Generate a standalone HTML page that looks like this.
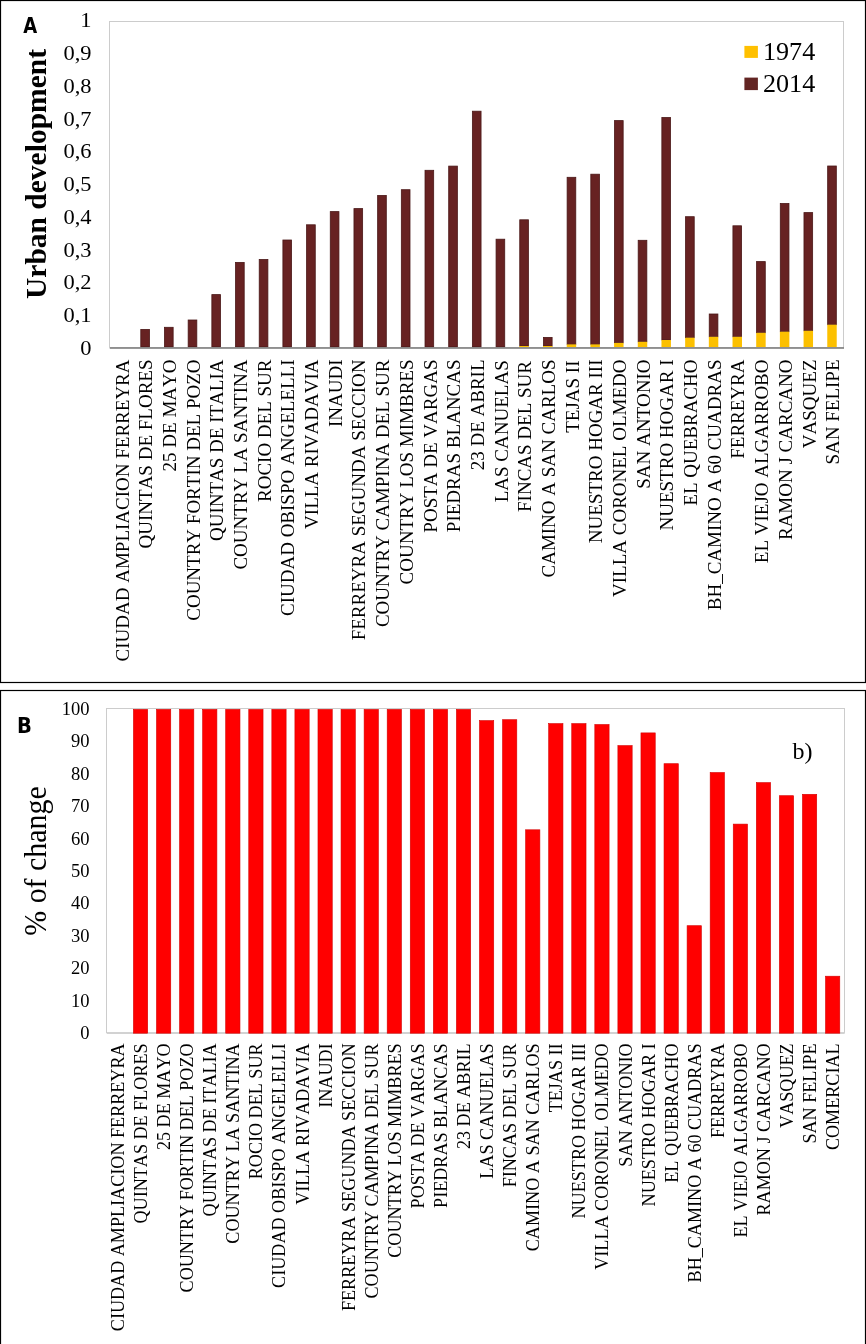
<!DOCTYPE html>
<html><head><meta charset="utf-8"><title>Urban development chart</title><style>
html,body{margin:0;padding:0;background:#fff;width:866px;height:1344px;overflow:hidden}
svg{display:block;will-change:transform}
text{font-family:'Liberation Serif','Times New Roman',serif;fill:#000;font-kerning:none}
.lbl{font-size:19px}
.lblb{font-size:18.5px}
.yt{font-size:21px}
.ytb{font-size:18px}
</style></head><body>
<svg width="866" height="1344" viewBox="0 0 866 1344">
<rect x="0" y="0" width="866" height="1344" fill="#fff"/>
<rect x="0.5" y="0.5" width="865" height="682" fill="none" stroke="#000" stroke-width="1.2"/>
<text transform="translate(23,33) scale(0.82,1)" x="0.3" y="0" style="font-family:'DejaVu Sans','Liberation Sans',sans-serif;font-weight:bold;font-size:22px">A</text>
<rect x="109.5" y="21.5" width="734.0" height="326.5" fill="none" stroke="#cccccc" stroke-width="1"/>
<text class="yt" transform="translate(91.6,354.70) scale(1.07,1)" text-anchor="end">0</text>
<text class="yt" transform="translate(91.6,321.97) scale(1.07,1)" text-anchor="end">0,1</text>
<text class="yt" transform="translate(91.6,289.25) scale(1.07,1)" text-anchor="end">0,2</text>
<text class="yt" transform="translate(91.6,256.52) scale(1.07,1)" text-anchor="end">0,3</text>
<text class="yt" transform="translate(91.6,223.80) scale(1.07,1)" text-anchor="end">0,4</text>
<text class="yt" transform="translate(91.6,191.07) scale(1.07,1)" text-anchor="end">0,5</text>
<text class="yt" transform="translate(91.6,158.35) scale(1.07,1)" text-anchor="end">0,6</text>
<text class="yt" transform="translate(91.6,125.62) scale(1.07,1)" text-anchor="end">0,7</text>
<text class="yt" transform="translate(91.6,92.90) scale(1.07,1)" text-anchor="end">0,8</text>
<text class="yt" transform="translate(91.6,60.17) scale(1.07,1)" text-anchor="end">0,9</text>
<text class="yt" transform="translate(91.6,27.45) scale(1.07,1)" text-anchor="end">1</text>
<text transform="translate(46,174) rotate(-90)" text-anchor="middle" style="font-weight:bold;font-size:29.5px">Urban development</text>
<rect x="140.79" y="329.40" width="8.67" height="17.60" fill="#672222" stroke="#4a1717" stroke-width="0.8"/>
<rect x="164.48" y="327.30" width="8.67" height="19.70" fill="#672222" stroke="#4a1717" stroke-width="0.8"/>
<rect x="188.16" y="320.00" width="8.67" height="27.00" fill="#672222" stroke="#4a1717" stroke-width="0.8"/>
<rect x="211.85" y="294.60" width="8.67" height="52.40" fill="#672222" stroke="#4a1717" stroke-width="0.8"/>
<rect x="235.53" y="262.40" width="8.67" height="84.60" fill="#672222" stroke="#4a1717" stroke-width="0.8"/>
<rect x="259.22" y="259.50" width="8.67" height="87.50" fill="#672222" stroke="#4a1717" stroke-width="0.8"/>
<rect x="282.90" y="240.00" width="8.67" height="107.00" fill="#672222" stroke="#4a1717" stroke-width="0.8"/>
<rect x="306.59" y="224.80" width="8.67" height="122.20" fill="#672222" stroke="#4a1717" stroke-width="0.8"/>
<rect x="330.27" y="211.60" width="8.67" height="135.40" fill="#672222" stroke="#4a1717" stroke-width="0.8"/>
<rect x="353.96" y="208.60" width="8.67" height="138.40" fill="#672222" stroke="#4a1717" stroke-width="0.8"/>
<rect x="377.64" y="195.40" width="8.67" height="151.60" fill="#672222" stroke="#4a1717" stroke-width="0.8"/>
<rect x="401.33" y="189.70" width="8.67" height="157.30" fill="#672222" stroke="#4a1717" stroke-width="0.8"/>
<rect x="425.01" y="170.30" width="8.67" height="176.70" fill="#672222" stroke="#4a1717" stroke-width="0.8"/>
<rect x="448.70" y="166.10" width="8.67" height="180.90" fill="#672222" stroke="#4a1717" stroke-width="0.8"/>
<rect x="472.38" y="111.20" width="8.67" height="235.80" fill="#672222" stroke="#4a1717" stroke-width="0.8"/>
<rect x="496.07" y="239.20" width="8.67" height="107.80" fill="#672222" stroke="#4a1717" stroke-width="0.8"/>
<rect x="519.75" y="219.80" width="8.67" height="126.20" fill="#672222" stroke="#4a1717" stroke-width="0.8"/>
<rect x="519.35" y="346.00" width="9.47" height="1.00" fill="#fcc000"/>
<rect x="543.44" y="337.40" width="8.67" height="8.60" fill="#672222" stroke="#4a1717" stroke-width="0.8"/>
<rect x="543.04" y="346.00" width="9.47" height="1.00" fill="#fcc000"/>
<rect x="567.12" y="177.30" width="8.67" height="167.10" fill="#672222" stroke="#4a1717" stroke-width="0.8"/>
<rect x="566.72" y="344.40" width="9.47" height="2.60" fill="#fcc000"/>
<rect x="590.81" y="174.20" width="8.67" height="170.20" fill="#672222" stroke="#4a1717" stroke-width="0.8"/>
<rect x="590.41" y="344.40" width="9.47" height="2.60" fill="#fcc000"/>
<rect x="614.49" y="120.60" width="8.67" height="222.30" fill="#672222" stroke="#4a1717" stroke-width="0.8"/>
<rect x="614.09" y="342.90" width="9.47" height="4.10" fill="#fcc000"/>
<rect x="638.18" y="240.30" width="8.67" height="101.50" fill="#672222" stroke="#4a1717" stroke-width="0.8"/>
<rect x="637.78" y="341.80" width="9.47" height="5.20" fill="#fcc000"/>
<rect x="661.86" y="117.50" width="8.67" height="222.50" fill="#672222" stroke="#4a1717" stroke-width="0.8"/>
<rect x="661.46" y="340.00" width="9.47" height="7.00" fill="#fcc000"/>
<rect x="685.55" y="216.70" width="8.67" height="121.00" fill="#672222" stroke="#4a1717" stroke-width="0.8"/>
<rect x="685.15" y="337.70" width="9.47" height="9.30" fill="#fcc000"/>
<rect x="709.23" y="314.00" width="8.67" height="22.80" fill="#672222" stroke="#4a1717" stroke-width="0.8"/>
<rect x="708.83" y="336.80" width="9.47" height="10.20" fill="#fcc000"/>
<rect x="732.92" y="225.80" width="8.67" height="111.00" fill="#672222" stroke="#4a1717" stroke-width="0.8"/>
<rect x="732.52" y="336.80" width="9.47" height="10.20" fill="#fcc000"/>
<rect x="756.60" y="261.60" width="8.67" height="71.20" fill="#672222" stroke="#4a1717" stroke-width="0.8"/>
<rect x="756.20" y="332.80" width="9.47" height="14.20" fill="#fcc000"/>
<rect x="780.29" y="203.50" width="8.67" height="128.20" fill="#672222" stroke="#4a1717" stroke-width="0.8"/>
<rect x="779.89" y="331.70" width="9.47" height="15.30" fill="#fcc000"/>
<rect x="803.97" y="212.60" width="8.67" height="118.20" fill="#672222" stroke="#4a1717" stroke-width="0.8"/>
<rect x="803.57" y="330.80" width="9.47" height="16.20" fill="#fcc000"/>
<rect x="827.66" y="166.00" width="8.67" height="158.70" fill="#672222" stroke="#4a1717" stroke-width="0.8"/>
<rect x="827.26" y="324.70" width="9.47" height="22.30" fill="#fcc000"/>
<rect x="110" y="347.1" width="734.0" height="1.7" fill="#858585"/>
<text class="lbl" transform="translate(128.64,359.50) rotate(-90)" text-anchor="end">CIUDAD AMPLIACION FERREYRA</text>
<text class="lbl" transform="translate(152.33,359.50) rotate(-90)" text-anchor="end">QUINTAS DE FLORES</text>
<text class="lbl" transform="translate(176.01,359.50) rotate(-90)" text-anchor="end">25 DE MAYO</text>
<text class="lbl" transform="translate(199.70,359.50) rotate(-90)" text-anchor="end">COUNTRY FORTIN DEL POZO</text>
<text class="lbl" transform="translate(223.38,359.50) rotate(-90)" text-anchor="end">QUINTAS DE ITALIA</text>
<text class="lbl" transform="translate(247.07,359.50) rotate(-90)" text-anchor="end">COUNTRY LA SANTINA</text>
<text class="lbl" transform="translate(270.75,359.50) rotate(-90)" text-anchor="end">ROCIO DEL SUR</text>
<text class="lbl" transform="translate(294.44,359.50) rotate(-90)" text-anchor="end">CIUDAD OBISPO ANGELELLI</text>
<text class="lbl" transform="translate(318.12,359.50) rotate(-90)" text-anchor="end">VILLA RIVADAVIA</text>
<text class="lbl" transform="translate(341.81,359.50) rotate(-90)" text-anchor="end">INAUDI</text>
<text class="lbl" transform="translate(365.49,359.50) rotate(-90)" text-anchor="end">FERREYRA SEGUNDA SECCION</text>
<text class="lbl" transform="translate(389.18,359.50) rotate(-90)" text-anchor="end">COUNTRY CAMPINA DEL SUR</text>
<text class="lbl" transform="translate(412.86,359.50) rotate(-90)" text-anchor="end">COUNTRY LOS MIMBRES</text>
<text class="lbl" transform="translate(436.55,359.50) rotate(-90)" text-anchor="end">POSTA DE VARGAS</text>
<text class="lbl" transform="translate(460.23,359.50) rotate(-90)" text-anchor="end">PIEDRAS BLANCAS</text>
<text class="lbl" transform="translate(483.92,359.50) rotate(-90)" text-anchor="end">23 DE ABRIL</text>
<text class="lbl" transform="translate(507.60,360.30) rotate(-90)" text-anchor="end">LAS CANUELAS</text>
<text class="lbl" transform="translate(531.29,361.00) rotate(-90)" text-anchor="end">FINCAS DEL SUR</text>
<text class="lbl" transform="translate(554.97,359.50) rotate(-90)" text-anchor="end">CAMINO A SAN CARLOS</text>
<text class="lbl" transform="translate(578.66,360.50) rotate(-90)" text-anchor="end">TEJAS II</text>
<text class="lbl" transform="translate(602.34,359.50) rotate(-90)" text-anchor="end">NUESTRO HOGAR III</text>
<text class="lbl" transform="translate(626.03,359.50) rotate(-90)" text-anchor="end">VILLA CORONEL OLMEDO</text>
<text class="lbl" transform="translate(649.71,359.50) rotate(-90)" text-anchor="end">SAN ANTONIO</text>
<text class="lbl" transform="translate(673.40,359.50) rotate(-90)" text-anchor="end">NUESTRO HOGAR I</text>
<text class="lbl" transform="translate(697.08,359.50) rotate(-90)" text-anchor="end">EL QUEBRACHO</text>
<text class="lbl" transform="translate(720.77,359.50) rotate(-90)" text-anchor="end">BH_CAMINO A 60 CUADRAS</text>
<text class="lbl" transform="translate(744.45,359.50) rotate(-90)" text-anchor="end">FERREYRA</text>
<text class="lbl" transform="translate(768.14,359.50) rotate(-90)" text-anchor="end">EL VIEJO ALGARROBO</text>
<text class="lbl" transform="translate(791.82,359.50) rotate(-90)" text-anchor="end">RAMON J CARCANO</text>
<text class="lbl" transform="translate(815.51,359.50) rotate(-90)" text-anchor="end">VASQUEZ</text>
<text class="lbl" transform="translate(839.19,359.50) rotate(-90)" text-anchor="end">SAN FELIPE</text>
<rect x="744.4" y="45.9" width="13.5" height="12" fill="#ffc000"/>
<rect x="744.4" y="77.6" width="13.5" height="12.5" fill="#632523"/>
<text transform="translate(763,59.9) scale(1.045,1)" style="font-size:25px">1974</text>
<text transform="translate(763,91.6) scale(1.045,1)" style="font-size:25px">2014</text>
<rect x="0.5" y="690.5" width="865" height="853" fill="none" stroke="#000" stroke-width="1.2"/>
<text transform="translate(18.4,733) scale(0.93,1)" x="-1.6" y="0" style="font-family:'DejaVu Sans','Liberation Sans',sans-serif;font-weight:bold;font-size:21px">B</text>
<rect x="106.5" y="708.5" width="738.0" height="324.3" fill="none" stroke="#cccccc" stroke-width="1"/>
<text class="ytb" transform="translate(89.6,1039.10) scale(1.03,1)" text-anchor="end">0</text>
<text class="ytb" transform="translate(89.6,1006.67) scale(1.03,1)" text-anchor="end">10</text>
<text class="ytb" transform="translate(89.6,974.24) scale(1.03,1)" text-anchor="end">20</text>
<text class="ytb" transform="translate(89.6,941.81) scale(1.03,1)" text-anchor="end">30</text>
<text class="ytb" transform="translate(89.6,909.38) scale(1.03,1)" text-anchor="end">40</text>
<text class="ytb" transform="translate(89.6,876.95) scale(1.03,1)" text-anchor="end">50</text>
<text class="ytb" transform="translate(89.6,844.52) scale(1.03,1)" text-anchor="end">60</text>
<text class="ytb" transform="translate(89.6,812.09) scale(1.03,1)" text-anchor="end">70</text>
<text class="ytb" transform="translate(89.6,779.66) scale(1.03,1)" text-anchor="end">80</text>
<text class="ytb" transform="translate(89.6,747.23) scale(1.03,1)" text-anchor="end">90</text>
<text class="ytb" transform="translate(89.6,714.80) scale(1.03,1)" text-anchor="end">100</text>
<text transform="translate(46,861) rotate(-90) scale(0.935,1)" text-anchor="middle" style="font-size:32px">% of change</text>
<rect x="107" y="1032" width="737.5" height="2" fill="#d2d2d2"/>
<rect x="133.42" y="709.40" width="14.27" height="323.80" fill="#ff0000" stroke="#d40000" stroke-width="0.6"/>
<rect x="156.49" y="709.40" width="14.27" height="323.80" fill="#ff0000" stroke="#d40000" stroke-width="0.6"/>
<rect x="179.56" y="709.40" width="14.27" height="323.80" fill="#ff0000" stroke="#d40000" stroke-width="0.6"/>
<rect x="202.63" y="709.40" width="14.27" height="323.80" fill="#ff0000" stroke="#d40000" stroke-width="0.6"/>
<rect x="225.70" y="709.40" width="14.27" height="323.80" fill="#ff0000" stroke="#d40000" stroke-width="0.6"/>
<rect x="248.77" y="709.40" width="14.27" height="323.80" fill="#ff0000" stroke="#d40000" stroke-width="0.6"/>
<rect x="271.84" y="709.40" width="14.27" height="323.80" fill="#ff0000" stroke="#d40000" stroke-width="0.6"/>
<rect x="294.91" y="709.40" width="14.27" height="323.80" fill="#ff0000" stroke="#d40000" stroke-width="0.6"/>
<rect x="317.98" y="709.40" width="14.27" height="323.80" fill="#ff0000" stroke="#d40000" stroke-width="0.6"/>
<rect x="341.05" y="709.40" width="14.27" height="323.80" fill="#ff0000" stroke="#d40000" stroke-width="0.6"/>
<rect x="364.12" y="709.40" width="14.27" height="323.80" fill="#ff0000" stroke="#d40000" stroke-width="0.6"/>
<rect x="387.19" y="709.40" width="14.27" height="323.80" fill="#ff0000" stroke="#d40000" stroke-width="0.6"/>
<rect x="410.26" y="709.40" width="14.27" height="323.80" fill="#ff0000" stroke="#d40000" stroke-width="0.6"/>
<rect x="433.33" y="709.40" width="14.27" height="323.80" fill="#ff0000" stroke="#d40000" stroke-width="0.6"/>
<rect x="456.40" y="709.40" width="14.27" height="323.80" fill="#ff0000" stroke="#d40000" stroke-width="0.6"/>
<rect x="479.47" y="720.60" width="14.27" height="312.60" fill="#ff0000" stroke="#d40000" stroke-width="0.6"/>
<rect x="502.54" y="719.70" width="14.27" height="313.50" fill="#ff0000" stroke="#d40000" stroke-width="0.6"/>
<rect x="525.61" y="829.80" width="14.27" height="203.40" fill="#ff0000" stroke="#d40000" stroke-width="0.6"/>
<rect x="548.68" y="723.60" width="14.27" height="309.60" fill="#ff0000" stroke="#d40000" stroke-width="0.6"/>
<rect x="571.75" y="723.60" width="14.27" height="309.60" fill="#ff0000" stroke="#d40000" stroke-width="0.6"/>
<rect x="594.82" y="724.50" width="14.27" height="308.70" fill="#ff0000" stroke="#d40000" stroke-width="0.6"/>
<rect x="617.89" y="745.60" width="14.27" height="287.60" fill="#ff0000" stroke="#d40000" stroke-width="0.6"/>
<rect x="640.96" y="732.90" width="14.27" height="300.30" fill="#ff0000" stroke="#d40000" stroke-width="0.6"/>
<rect x="664.03" y="763.70" width="14.27" height="269.50" fill="#ff0000" stroke="#d40000" stroke-width="0.6"/>
<rect x="687.10" y="925.70" width="14.27" height="107.50" fill="#ff0000" stroke="#d40000" stroke-width="0.6"/>
<rect x="710.17" y="772.50" width="14.27" height="260.70" fill="#ff0000" stroke="#d40000" stroke-width="0.6"/>
<rect x="733.24" y="824.10" width="14.27" height="209.10" fill="#ff0000" stroke="#d40000" stroke-width="0.6"/>
<rect x="756.31" y="782.60" width="14.27" height="250.60" fill="#ff0000" stroke="#d40000" stroke-width="0.6"/>
<rect x="779.38" y="795.70" width="14.27" height="237.50" fill="#ff0000" stroke="#d40000" stroke-width="0.6"/>
<rect x="802.45" y="794.30" width="14.27" height="238.90" fill="#ff0000" stroke="#d40000" stroke-width="0.6"/>
<rect x="825.52" y="976.20" width="14.27" height="57.00" fill="#ff0000" stroke="#d40000" stroke-width="0.6"/>
<text class="lblb" transform="translate(123.98,1043.4) rotate(-90) scale(0.98,1)" text-anchor="end">CIUDAD AMPLIACION FERREYRA</text>
<text class="lblb" transform="translate(147.06,1043.4) rotate(-90) scale(0.98,1)" text-anchor="end">QUINTAS DE FLORES</text>
<text class="lblb" transform="translate(170.12,1043.4) rotate(-90) scale(0.98,1)" text-anchor="end">25 DE MAYO</text>
<text class="lblb" transform="translate(193.19,1043.4) rotate(-90) scale(0.98,1)" text-anchor="end">COUNTRY FORTIN DEL POZO</text>
<text class="lblb" transform="translate(216.26,1043.4) rotate(-90) scale(0.98,1)" text-anchor="end">QUINTAS DE ITALIA</text>
<text class="lblb" transform="translate(239.34,1043.4) rotate(-90) scale(0.98,1)" text-anchor="end">COUNTRY LA SANTINA</text>
<text class="lblb" transform="translate(262.41,1043.4) rotate(-90) scale(0.98,1)" text-anchor="end">ROCIO DEL SUR</text>
<text class="lblb" transform="translate(285.48,1043.4) rotate(-90) scale(0.98,1)" text-anchor="end">CIUDAD OBISPO ANGELELLI</text>
<text class="lblb" transform="translate(308.55,1043.4) rotate(-90) scale(0.98,1)" text-anchor="end">VILLA RIVADAVIA</text>
<text class="lblb" transform="translate(331.62,1043.4) rotate(-90) scale(0.98,1)" text-anchor="end">INAUDI</text>
<text class="lblb" transform="translate(354.69,1043.4) rotate(-90) scale(0.98,1)" text-anchor="end">FERREYRA SEGUNDA SECCION</text>
<text class="lblb" transform="translate(377.75,1043.4) rotate(-90) scale(0.98,1)" text-anchor="end">COUNTRY CAMPINA DEL SUR</text>
<text class="lblb" transform="translate(400.82,1043.4) rotate(-90) scale(0.98,1)" text-anchor="end">COUNTRY LOS MIMBRES</text>
<text class="lblb" transform="translate(423.89,1043.4) rotate(-90) scale(0.98,1)" text-anchor="end">POSTA DE VARGAS</text>
<text class="lblb" transform="translate(446.96,1043.4) rotate(-90) scale(0.98,1)" text-anchor="end">PIEDRAS BLANCAS</text>
<text class="lblb" transform="translate(470.03,1043.4) rotate(-90) scale(0.98,1)" text-anchor="end">23 DE ABRIL</text>
<text class="lblb" transform="translate(493.11,1043.4) rotate(-90) scale(0.98,1)" text-anchor="end">LAS CANUELAS</text>
<text class="lblb" transform="translate(516.17,1043.4) rotate(-90) scale(0.98,1)" text-anchor="end">FINCAS DEL SUR</text>
<text class="lblb" transform="translate(539.25,1043.4) rotate(-90) scale(0.98,1)" text-anchor="end">CAMINO A SAN CARLOS</text>
<text class="lblb" transform="translate(562.32,1043.4) rotate(-90) scale(0.98,1)" text-anchor="end">TEJAS II</text>
<text class="lblb" transform="translate(585.38,1043.4) rotate(-90) scale(0.98,1)" text-anchor="end">NUESTRO HOGAR III</text>
<text class="lblb" transform="translate(608.46,1043.4) rotate(-90) scale(0.98,1)" text-anchor="end">VILLA CORONEL OLMEDO</text>
<text class="lblb" transform="translate(631.53,1043.4) rotate(-90) scale(0.98,1)" text-anchor="end">SAN ANTONIO</text>
<text class="lblb" transform="translate(654.60,1043.4) rotate(-90) scale(0.98,1)" text-anchor="end">NUESTRO HOGAR I</text>
<text class="lblb" transform="translate(677.67,1043.4) rotate(-90) scale(0.98,1)" text-anchor="end">EL QUEBRACHO</text>
<text class="lblb" transform="translate(700.74,1043.4) rotate(-90) scale(0.98,1)" text-anchor="end">BH_CAMINO A 60 CUADRAS</text>
<text class="lblb" transform="translate(723.81,1043.4) rotate(-90) scale(0.98,1)" text-anchor="end">FERREYRA</text>
<text class="lblb" transform="translate(746.88,1043.4) rotate(-90) scale(0.98,1)" text-anchor="end">EL VIEJO ALGARROBO</text>
<text class="lblb" transform="translate(769.95,1043.4) rotate(-90) scale(0.98,1)" text-anchor="end">RAMON J CARCANO</text>
<text class="lblb" transform="translate(793.02,1043.4) rotate(-90) scale(0.98,1)" text-anchor="end">VASQUEZ</text>
<text class="lblb" transform="translate(816.09,1043.4) rotate(-90) scale(0.98,1)" text-anchor="end">SAN FELIPE</text>
<text class="lblb" transform="translate(839.16,1043.4) rotate(-90) scale(0.98,1)" text-anchor="end">COMERCIAL</text>
<text x="792.5" y="759" style="font-size:24px">b)</text>
</svg>
</body></html>
